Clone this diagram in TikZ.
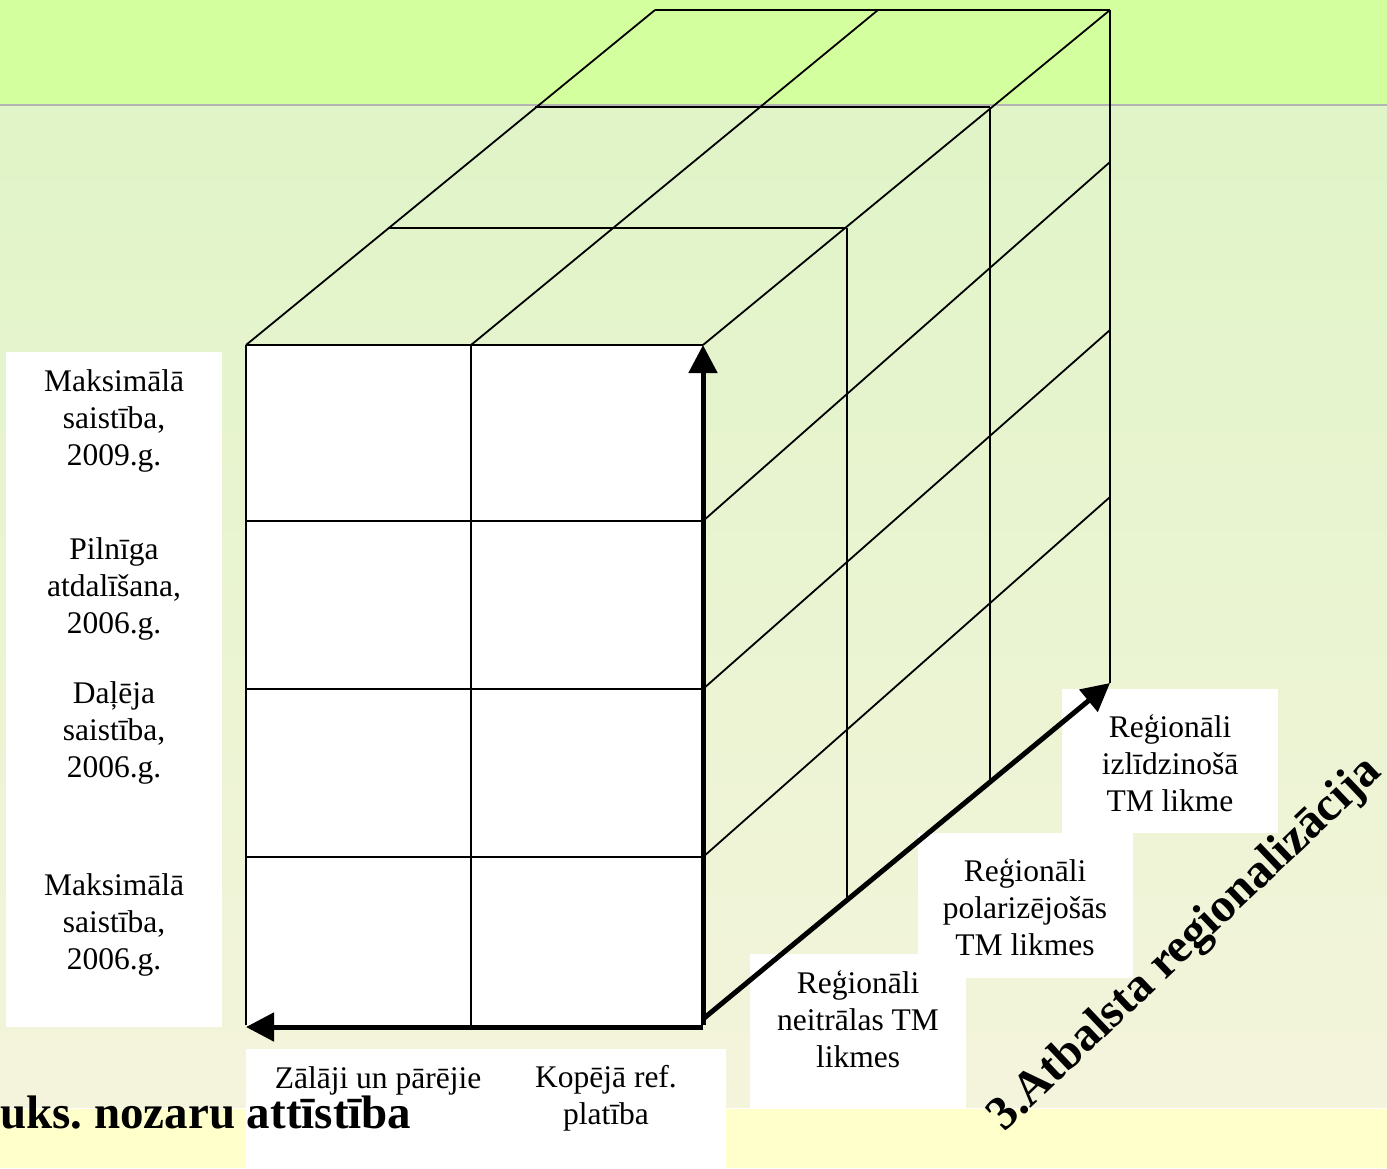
\documentclass[tikz,border=0pt]{standalone}
\usepackage{fontspec}
\setmainfont{Liberation Serif}
\usetikzlibrary{arrows.meta}
\frenchspacing
\definecolor{topband}{RGB}{212,255,158}
\definecolor{gradtop}{RGB}{224,244,199}
\definecolor{gradbot}{RGB}{244,244,220}
\definecolor{yband}{RGB}{255,255,204}
\definecolor{sepgray}{RGB}{180,180,180}
\tikzset{
  gridline/.style={draw=black, line width=1.8pt},
  bigarrow/.style={draw=black, line width=5pt, -{Triangle[width=28pt,length=28pt]}},
  whitebox/.style={fill=white},
  lbl/.style={align=center, inner sep=0pt, font=\fontsize{31.5}{37}\selectfont},
  bigbold/.style={inner sep=0pt, font=\fontsize{47}{50}\selectfont\bfseries},
  diagbold/.style={inner sep=0pt, font=\fontsize{48}{52}\selectfont\bfseries}
}
\begin{document}
\begin{tikzpicture}[x=1pt,y=-1pt]
\useasboundingbox (0,0) rectangle (1387,1168);
% background
\fill[topband] (0,0) rectangle (1387,105);
\shade[top color=gradtop, bottom color=gradbot] (0,105) rectangle (1387,1108);
\fill[yband] (0,1108) rectangle (1387,1168);
\draw[sepgray, line width=2.2pt] (0,105) -- (1387,105);
\draw[white, line width=1pt] (0,1108) -- (1387,1108);
% white label boxes
\fill[whitebox] (6,352) rectangle (222,1027);
\fill[whitebox] (246,1049) rectangle (726,1168);
\fill[whitebox] (750,954) rectangle (966,1108);
\fill[whitebox] (918,833) rectangle (1133,978);
\fill[whitebox] (1062,689) rectangle (1278,833);
% cube coordinates
\coordinate (FTL) at (246,345);
\coordinate (FTM) at (471,345);
\coordinate (FTR) at (703,345);
\coordinate (FBL) at (246,1025);
\coordinate (FBLa) at (246,1027);
\coordinate (FBM) at (471,1025);
\coordinate (FBR) at (703,1025);
\coordinate (FBRa) at (703,1027);
\coordinate (FBRd) at (703,1019);
\coordinate (FL1) at (246,521);
\coordinate (FR1) at (703,521);
\coordinate (FL2) at (246,689);
\coordinate (FR2) at (703,689);
\coordinate (FL3) at (246,857);
\coordinate (FR3) at (703,857);
\coordinate (T1L) at (388,228);
\coordinate (T1R) at (847,228);
\coordinate (T2L) at (535,107);
\coordinate (T2R) at (990,107);
\coordinate (BTL) at (655,10);
\coordinate (BTM) at (878,10);
\coordinate (BTR) at (1110,10);
\coordinate (B1) at (1110,162);
\coordinate (B2) at (1110,330);
\coordinate (B3) at (1110,497);
\coordinate (BBR) at (1110,683);
\coordinate (V1b) at (847,898);
\coordinate (V2b) at (990,780);
% front face
\fill[white] (FTL) rectangle (FBR);
\draw[gridline] (FTL) -- (FTR);
\draw[gridline] (FTL) -- (FBL);
\draw[gridline] (FTM) -- (FBM);
\draw[gridline] (FL1) -- (FR1);
\draw[gridline] (FL2) -- (FR2);
\draw[gridline] (FL3) -- (FR3);
% top face
\draw[gridline] (FTL) -- (BTL);
\draw[gridline] (FTM) -- (BTM);
\draw[gridline] (FTR) -- (BTR);
\draw[gridline] (T1L) -- (T1R);
\draw[gridline] (T2L) -- (T2R);
\draw[gridline] (BTL) -- (BTR);
% right face
\draw[gridline] (BTR) -- (BBR);
\draw[gridline] (T1R) -- (V1b);
\draw[gridline] (T2R) -- (V2b);
\draw[gridline] (FR1) -- (B1);
\draw[gridline] (FR2) -- (B2);
\draw[gridline] (FR3) -- (B3);
% axis arrows
\draw[bigarrow] (FBR) -- (FTR);
\draw[bigarrow] (FBRa) -- (FBLa);
\draw[bigarrow] (FBRd) -- (BBR);
% labels
\node[lbl] (m09) at (114,421) {Maksimālā\\saistība,\\2009.g.};
\node[lbl] (pil) at (114,589) {Pilnīga\\atdalīšana,\\2006.g.};
\node[lbl] (dal) at (114,733) {Daļēja\\saistība,\\2006.g.};
\node[lbl] (m06) at (114,925) {Maksimālā\\saistība,\\2006.g.};
\node[lbl] (zal) at (378,1081) {Zālāji un pārējie};
\node[lbl] (kop) at (606,1098) {Kopējā ref.\\platība};
\node[lbl] (nei) at (858,1019) {Reģionāli\\neitrālas TM\\likmes};
\node[lbl] (pol) at (1025,907) {Reģionāli\\polarizējošās\\TM likmes};
\node[lbl] (izl) at (1170,763) {Reģionāli\\izlīdzinošā\\TM likme};
% bold texts
\node[bigbold, anchor=base west] (title) at (0,1128) {uks. nozaru attīstība};
\node[diagbold, rotate=43.5] (regio) at (1186,945) {3.Atbalsta regionalizācija};
\end{tikzpicture}
\end{document}
